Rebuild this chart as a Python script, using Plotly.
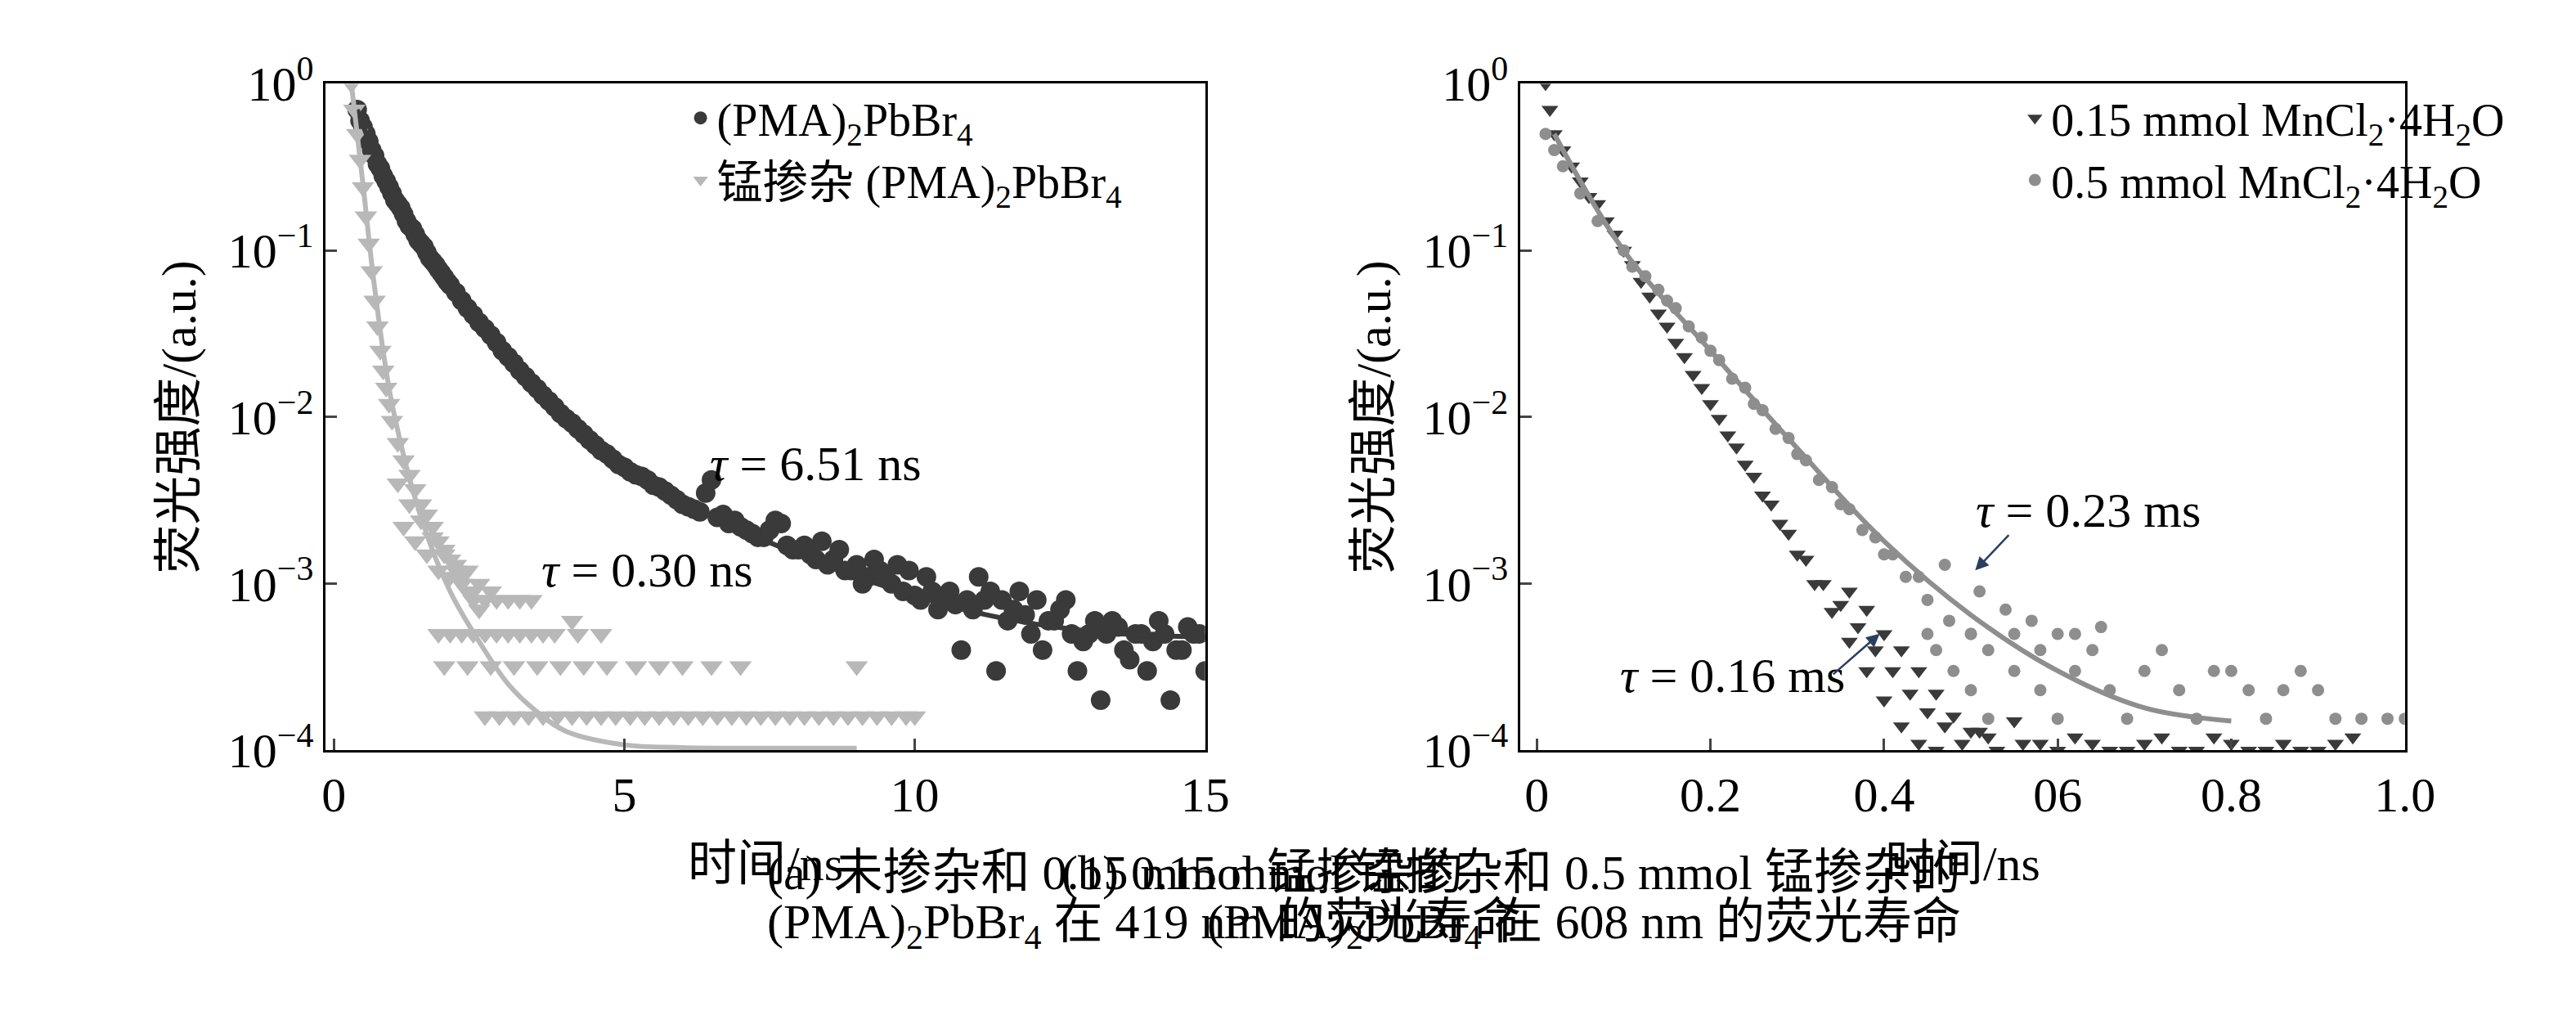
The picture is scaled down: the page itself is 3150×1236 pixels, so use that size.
"""Fluorescence lifetime decay curves using Plotly."""
import plotly.graph_objects as go
from plotly.subplots import make_subplots

# (a) undoped (PMA)2PbBr4, 419 nm
a_dark_x = [0.4, 0.5, 0.6, 0.7, 0.8, 0.9, 1.0, 1.1, 1.2, 1.3,
            1.4, 1.5, 1.6, 1.7, 1.8, 1.9, 2.0, 2.2, 2.4, 2.6,
            2.8, 3.0, 3.2, 3.4, 3.6, 3.8, 4.0, 4.2, 4.4, 4.6,
            4.8, 5.0, 5.2, 5.4, 5.6, 5.8, 6.0, 6.2, 6.4, 6.6,
            6.8, 7.0, 7.2, 7.4, 7.6, 7.8, 8.0, 8.2, 8.4, 8.6,
            8.8, 9.0, 9.2, 9.4, 9.6, 9.8, 10.0, 10.2, 10.4, 10.6,
            10.8, 11.0, 11.2, 11.4, 11.6, 11.8, 12.0, 12.2, 12.4, 12.6,
            12.8, 13.0, 13.2, 13.4, 13.6, 13.8, 14.0, 14.2, 14.4, 14.6,
            14.8, 15.0, 0.45, 0.55, 0.65, 0.75, 0.85, 0.95, 1.05, 1.15,
            1.25, 1.35, 1.45, 1.55, 1.65, 1.75, 1.85, 1.95, 2.1, 2.3,
            2.5, 2.7, 2.9, 3.1, 3.3, 3.5, 3.7, 3.9, 4.1, 4.3,
            4.5, 4.7, 4.9, 5.1, 5.3, 5.5, 5.7, 5.9, 6.1, 6.3,
            6.5, 6.7, 6.9, 7.1, 7.3, 7.5, 7.7, 7.9, 8.1, 8.3,
            8.5, 8.7, 8.9, 9.1, 9.3, 9.5, 9.7, 9.9, 10.1, 10.3,
            10.5, 10.7, 10.9, 11.1, 11.3, 11.5, 11.7, 11.9, 12.1, 12.3,
            12.5, 12.7, 12.9, 13.1, 13.3, 13.5, 13.7, 13.9, 14.1, 14.3,
            14.5, 14.7, 14.9]
a_dark_y = [0.7, 0.55, 0.45, 0.37, 0.31, 0.26, 0.22, 0.19, 0.165, 0.14,
            0.125, 0.11, 0.097, 0.086, 0.077, 0.069, 0.062, 0.05, 0.041, 0.034,
            0.028, 0.023, 0.019, 0.016, 0.0135, 0.0115, 0.0098, 0.0085, 0.0073, 0.0063,
            0.0056, 0.005, 0.0045, 0.0042, 0.0038, 0.0034, 0.003, 0.0028, 0.0035, 0.0025,
            0.0023, 0.0022, 0.002, 0.0019, 0.0024, 0.0017, 0.0016, 0.0015, 0.0018, 0.0014,
            0.0012, 0.0013, 0.0011, 0.0012, 0.001, 0.0009, 0.00085, 0.0011, 0.0007, 0.0009,
            0.0004, 0.0007, 0.0008, 0.0003, 0.0006, 0.0009, 0.0005, 0.0004, 0.0006, 0.0008,
            0.0003, 0.0005, 0.0002, 0.0006, 0.0004, 0.0005, 0.0003, 0.0006, 0.0002, 0.0004,
            0.0005, 0.0003, 0.6, 0.5, 0.4, 0.33, 0.28, 0.24, 0.2, 0.18,
            0.15, 0.135, 0.115, 0.105, 0.09, 0.082, 0.073, 0.065, 0.056, 0.045,
            0.037, 0.031, 0.025, 0.021, 0.0175, 0.0148, 0.0125, 0.0105, 0.0092, 0.0079,
            0.0068, 0.006, 0.0052, 0.0047, 0.0044, 0.0039, 0.0036, 0.0032, 0.0029, 0.0027,
            0.0042, 0.0026, 0.0024, 0.0021, 0.0019, 0.0021, 0.0023, 0.0016, 0.0017, 0.0014,
            0.0013, 0.0016, 0.0012, 0.001, 0.0014, 0.0011, 0.0013, 0.0012, 0.0008, 0.0009,
            0.0008, 0.00075, 0.0008, 0.0011, 0.0009, 0.0008, 0.0007, 0.00065, 0.0008, 0.0006,
            0.0007, 0.0005, 0.00045, 0.0006, 0.0005, 0.00055, 0.00035, 0.0005, 0.00045, 0.0005,
            0.0004, 0.00055, 0.0005]
a_dark_fit_x = [0.4, 1, 2, 3, 4, 5, 6, 7, 8, 9, 10, 11, 12, 13, 14, 15]
a_dark_fit_y = [0.7, 0.22, 0.062, 0.023, 0.0098, 0.005, 0.0031, 0.0021, 0.0015, 0.0011,
                0.00085, 0.00068, 0.00058, 0.00052, 0.00049, 0.00048]

# (a) 0.15 mmol Mn-doped, 419 nm
a_light_x = [0.3, 0.35, 0.4, 0.45, 0.5, 0.55, 0.6, 0.65, 0.7, 0.75,
             0.8, 0.85, 0.9, 0.95, 1.0, 1.1, 1.2, 1.3, 1.4, 1.5,
             1.6, 1.7, 1.8, 1.9, 2.0, 2.1, 2.2, 2.3, 2.4, 2.5,
             1.2, 1.4, 1.6, 1.8, 2.0, 2.2, 2.4, 2.6, 2.8, 3.0,
             3.2, 3.4, 4.1, 1.8, 2.2, 2.6, 3.0, 3.4, 3.8, 4.2,
             4.6, 1.9, 2.3, 2.7, 3.1, 3.5, 3.9, 4.3, 4.7, 5.2,
             5.6, 6.0, 6.5, 7.0, 9.0, 2.6, 3.1, 3.6, 4.1, 4.6,
             5.1, 5.6, 6.1, 6.6, 7.1, 7.6, 8.1, 8.6, 9.1, 9.6,
             10.0, 1.1, 1.3, 1.5, 1.7, 1.9, 2.1, 2.3, 2.5, 2.7,
             2.0, 2.4, 2.8, 3.2, 3.6, 2.85, 3.35, 3.85, 4.35, 4.85,
             5.35, 5.85, 6.35, 6.85, 7.35, 7.85, 8.35, 8.85, 9.35, 9.85]
a_light_y = [1.0, 0.7, 0.5, 0.35, 0.24, 0.16, 0.11, 0.075, 0.05, 0.035,
             0.025, 0.019, 0.015, 0.012, 0.0095, 0.007, 0.0055, 0.0045, 0.0037, 0.003,
             0.0026, 0.0022, 0.0018, 0.0016, 0.0014, 0.0012, 0.0011, 0.0009, 0.0008, 0.0007,
             0.0022, 0.0018, 0.0015, 0.0012, 0.0011, 0.001, 0.0009, 0.0008, 0.0008, 0.0008,
             0.0008, 0.0008, 0.0006, 0.0005, 0.0005, 0.0005, 0.0005, 0.0005, 0.0005, 0.0005,
             0.0005, 0.00032, 0.00032, 0.00032, 0.00032, 0.00032, 0.00032, 0.00032, 0.00032, 0.00032,
             0.00032, 0.00032, 0.00032, 0.00032, 0.00032, 0.00016, 0.00016, 0.00016, 0.00016, 0.00016,
             0.00016, 0.00016, 0.00016, 0.00016, 0.00016, 0.00016, 0.00016, 0.00016, 0.00016, 0.00016,
             0.00016, 0.004, 0.003, 0.0024, 0.0019, 0.0015, 0.0013, 0.0012, 0.001, 0.0009,
             0.0005, 0.0005, 0.0005, 0.0005, 0.0005, 0.00016, 0.00016, 0.00016, 0.00016, 0.00016,
             0.00016, 0.00016, 0.00016, 0.00016, 0.00016, 0.00016, 0.00016, 0.00016, 0.00016, 0.00016]
a_light_fit_x = [0.3, 0.5, 0.7, 1, 1.5, 2, 2.5, 3, 3.5, 4, 5, 6, 7, 8, 9]
a_light_fit_y = [1, 0.25, 0.06, 0.012, 0.0025, 0.0009, 0.00045, 0.00025, 0.00017, 0.00013,
                 0.000108, 0.000104, 0.000103, 0.000103, 0.000103]

# (b) 608 nm
b_dark_x = [0.01, 0.015, 0.02, 0.03, 0.04, 0.05, 0.06, 0.08, 0.10, 0.12,
            0.14, 0.16, 0.18, 0.20, 0.22, 0.24, 0.26, 0.28, 0.30, 0.32,
            0.34, 0.36, 0.38, 0.40, 0.42, 0.44, 0.46, 0.36, 0.38, 0.40,
            0.42, 0.44, 0.46, 0.48, 0.50, 0.52, 0.55, 0.58, 0.62, 0.66,
            0.70, 0.74, 0.78, 0.82, 0.86, 0.90, 0.94, 0.07, 0.09, 0.11,
            0.13, 0.15, 0.17, 0.19, 0.21, 0.23, 0.25, 0.27, 0.29, 0.31,
            0.33, 0.35, 0.37, 0.39, 0.41, 0.43, 0.45, 0.47, 0.49, 0.51,
            0.53, 0.56, 0.60, 0.64, 0.68, 0.72, 0.76, 0.80, 0.84, 0.88, 0.92]
b_dark_y = [1.0, 0.7, 0.5, 0.4, 0.32, 0.26, 0.21, 0.15, 0.1, 0.065,
            0.042, 0.028, 0.018, 0.012, 0.0078, 0.0052, 0.0034, 0.0023, 0.0015, 0.001,
            0.00068, 0.00045, 0.0003, 0.0002, 0.00014, 0.00011, 0.0001, 0.0009, 0.0007, 0.0005,
            0.0004, 0.0003, 0.00022, 0.00016, 0.00013, 0.00012, 0.00015, 0.00011, 0.00012, 0.0001,
            0.00011, 0.0001, 0.00012, 0.0001, 0.00011, 0.0001, 0.00012, 0.19, 0.125, 0.082,
            0.053, 0.035, 0.023, 0.015, 0.0098, 0.0066, 0.0044, 0.003, 0.002, 0.0014,
            0.001, 0.00075, 0.00055, 0.0004, 0.0003, 0.00022, 0.00017, 0.00014, 0.00011, 0.00013,
            0.0001, 0.00011, 0.0001, 0.00011, 0.0001, 0.00012, 0.0001, 0.00011, 0.0001, 0.0001, 0.00011]
b_gray_x = [0.01, 0.02, 0.03, 0.05, 0.07, 0.10, 0.125, 0.15, 0.175, 0.20,
            0.225, 0.25, 0.275, 0.30, 0.325, 0.35, 0.375, 0.40, 0.425, 0.45,
            0.475, 0.50, 0.45, 0.50, 0.55, 0.60, 0.46, 0.52, 0.58, 0.64,
            0.48, 0.55, 0.62, 0.70, 0.78, 0.88, 0.50, 0.58, 0.66, 0.74,
            0.82, 0.90, 0.52, 0.60, 0.68, 0.76, 0.84, 0.92, 1.0, 0.11,
            0.14, 0.16, 0.19, 0.21, 0.24, 0.26, 0.29, 0.31, 0.34, 0.36,
            0.39, 0.41, 0.44, 0.47, 0.51, 0.54, 0.57, 0.62, 0.65, 0.72,
            0.80, 0.86, 0.95, 0.98]
b_gray_y = [0.5, 0.4, 0.32, 0.22, 0.15, 0.1, 0.07, 0.05, 0.035, 0.025,
            0.017, 0.012, 0.0085, 0.006, 0.0042, 0.003, 0.0021, 0.0015, 0.0011, 0.0008,
            0.0006, 0.0005, 0.0005, 0.0005, 0.0005, 0.0005, 0.0004, 0.0004, 0.0004, 0.0004,
            0.0003, 0.0003, 0.0003, 0.0003, 0.0003, 0.0003, 0.00023, 0.00023, 0.00023, 0.00023,
            0.00023, 0.00023, 0.000155, 0.000155, 0.000155, 0.000155, 0.000155, 0.000155, 0.000155, 0.08,
            0.058, 0.045, 0.03, 0.022, 0.015, 0.011, 0.0075, 0.0055, 0.0038, 0.0028,
            0.0019, 0.0015, 0.0011, 0.0013, 0.0009, 0.0007, 0.0006, 0.0005, 0.00055, 0.0004,
            0.0003, 0.00023, 0.000155, 0.000155]
b_gray_fit_x = [0.02, 0.1, 0.2, 0.3, 0.4, 0.5, 0.6, 0.7, 0.8]
b_gray_fit_y = [0.5, 0.1, 0.025, 0.0065, 0.0018, 0.00065, 0.0003, 0.00018, 0.00015]

y_tick_vals = [1e-4, 1e-3, 1e-2, 1e-1, 1]
y_tick_text = ["10<sup>−4</sup>", "10<sup>−3</sup>", "10<sup>−2</sup>", "10<sup>−1</sup>", "10<sup>0</sup>"]
b_tick_vals = [0, 0.2, 0.4, 0.6, 0.8, 1.0]
b_tick_text = ["0", "0.2", "0.4", "06", "0.8", "1.0"]

FONT = "Liberation Serif, Noto Sans CJK SC"
DARK = "#3a3a3a"
LIGHT = "#b8b8b8"
GRAY = "#8e8e8e"
SIZE = 60

fig = make_subplots(rows=1, cols=2)

fig.add_trace(go.Scatter(x=a_dark_x, y=a_dark_y, mode="markers", name="(PMA)<sub>2</sub>PbBr<sub>4</sub>",
                         marker=dict(color=DARK, size=24, symbol="circle"), legend="legend"), 1, 1)
fig.add_trace(go.Scatter(x=a_light_x, y=a_light_y, mode="markers", name="锰掺杂 (PMA)<sub>2</sub>PbBr<sub>4</sub>",
                         marker=dict(color=LIGHT, size=24, symbol="triangle-down"), legend="legend"), 1, 1)
fig.add_trace(go.Scatter(x=a_dark_fit_x, y=a_dark_fit_y, mode="lines", line=dict(color=DARK, width=6, shape="spline"),
                         showlegend=False), 1, 1)
fig.add_trace(go.Scatter(x=a_light_fit_x, y=a_light_fit_y, mode="lines", line=dict(color=LIGHT, width=6, shape="spline"),
                         showlegend=False), 1, 1)

fig.add_trace(go.Scatter(x=b_dark_x, y=b_dark_y, mode="markers", name="0.15 mmol MnCl<sub>2</sub>·4H<sub>2</sub>O",
                         marker=dict(color=DARK, size=18, symbol="triangle-down"), legend="legend2"), 1, 2)
fig.add_trace(go.Scatter(x=b_gray_x, y=b_gray_y, mode="markers", name="0.5 mmol MnCl<sub>2</sub>·4H<sub>2</sub>O",
                         marker=dict(color=GRAY, size=15, symbol="circle"), legend="legend2"), 1, 2)
fig.add_trace(go.Scatter(x=b_gray_fit_x, y=b_gray_fit_y, mode="lines", line=dict(color=GRAY, width=6, shape="spline"),
                         showlegend=False), 1, 2)

axis_style = dict(showline=True, linecolor="black", linewidth=3, mirror=True, ticks="inside",
                  ticklen=14, tickwidth=3, showgrid=False, zeroline=False,
                  tickfont=dict(size=SIZE, family=FONT, color="black"))
fig.update_xaxes(**axis_style)
fig.update_yaxes(**axis_style)
fig.update_xaxes(range=[-0.14, 15], tickvals=[0, 5, 10, 15], domain=[0.124, 0.470], row=1, col=1)
fig.update_xaxes(range=[-0.019, 1.0], tickvals=b_tick_vals, ticktext=b_tick_text, domain=[0.594, 0.942], row=1, col=2)
fig.update_xaxes(title=dict(text="时间/ns", font=dict(size=SIZE, family=FONT), standoff=30))
fig.update_yaxes(type="log", range=[-4, 0], tickvals=y_tick_vals, ticktext=y_tick_text, domain=[0.252, 0.954],
                 title=dict(text="荧光强度/(a.u.)", font=dict(size=SIZE, family=FONT), standoff=20))

annotations = [
    dict(x=8.3, y=-2.28, xref="x", yref="y", text="<i>τ</i> = 6.51 ns", showarrow=False),
    dict(x=5.4, y=-2.92, xref="x", yref="y", text="<i>τ</i> = 0.30 ns", showarrow=False),
    dict(x=0.635, y=-2.56, xref="x2", yref="y2", text="<i>τ</i> = 0.23 ms", showarrow=False),
    dict(x=0.505, y=-2.92, xref="x2", yref="y2", text="", showarrow=True,
         ax=0.545, ay=-2.7, axref="x2", ayref="y2", arrowhead=2, arrowwidth=2.5, arrowsize=1.3),
    dict(x=0.225, y=-3.55, xref="x2", yref="y2", text="<i>τ</i> = 0.16 ms", showarrow=False),
    dict(x=0.395, y=-3.3, xref="x2", yref="y2", text="", showarrow=True,
         ax=0.34, ay=-3.55, axref="x2", ayref="y2", arrowhead=2, arrowwidth=2.5, arrowsize=1.3),
    dict(x=0.297, y=0.093, xref="paper", yref="paper", showarrow=False,
         text="(a) 未掺杂和 0.15 mmol 锰掺杂的"),
    dict(x=0.297, y=0.034, xref="paper", yref="paper", showarrow=False,
         text="(PMA)<sub>2</sub>PbBr<sub>4</sub> 在 419 nm 的荧光寿命"),
    dict(x=0.768, y=0.093, xref="paper", yref="paper", showarrow=False,
         text="(b) 0.15 mmol 锰掺杂和 0.5 mmol 锰掺杂的"),
    dict(x=0.768, y=0.034, xref="paper", yref="paper", showarrow=False,
         text="(PMA)<sub>2</sub>PbBr<sub>4</sub> 在 608 nm 的荧光寿命"),
]
for ann in annotations:
    ann["font"] = dict(size=SIZE, family=FONT, color="black")
fig.update_layout(annotations=annotations)

legend_style = dict(bgcolor="rgba(0,0,0,0)", font=dict(size=SIZE - 4, family=FONT, color="black"),
                    xanchor="left", yanchor="top", itemsizing="trace", tracegroupgap=0)
fig.update_layout(
    width=3150, height=1236,
    margin=dict(l=0, r=0, t=0, b=0),
    plot_bgcolor="white", paper_bgcolor="white",
    font=dict(family=FONT, color="black"),
    legend=dict(x=0.265, y=0.955, **legend_style),
    legend2=dict(x=0.79, y=0.955, **legend_style),
)

fig.write_html("out.html")
